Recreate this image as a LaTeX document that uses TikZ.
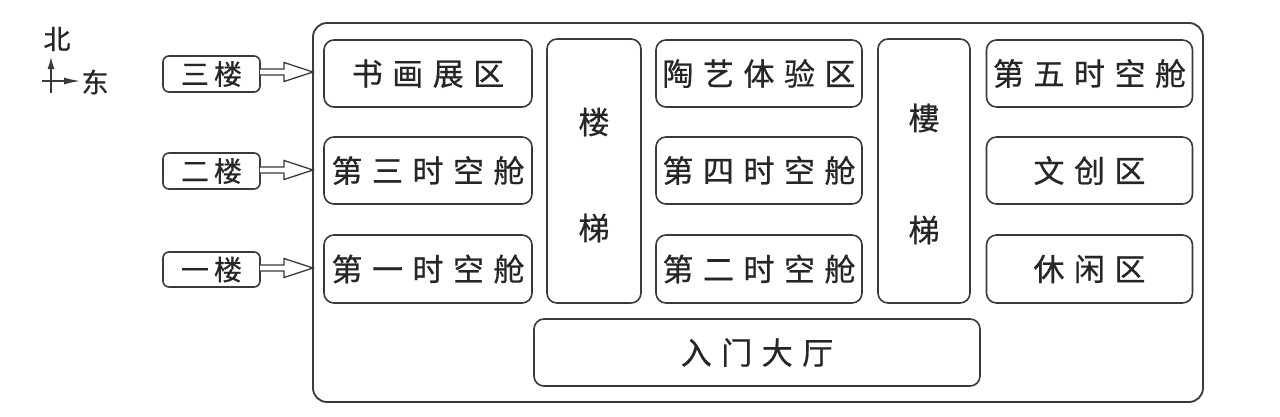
\documentclass[tikz,border=0pt]{standalone}
\usepackage{fontspec}
\setmainfont{Noto Sans CJK SC}
\newfontfamily\cjk[FakeBold=0.6]{Noto Sans CJK SC}
\usetikzlibrary{arrows.meta,positioning}
\definecolor{ln}{HTML}{3A3A3A}
\definecolor{tx}{HTML}{262626}
\newcommand\gp{\kern9.5pt}
\begin{document}
\begin{tikzpicture}[x=1pt,y=-1pt,
  every node/.style={inner sep=0pt,outer sep=0pt,text=tx},
  room/.style={draw=ln,line width=1.6pt,rounded corners=10pt,font=\cjk\fontsize{31}{31}\selectfont},
  floorbox/.style={draw=ln,line width=1.6pt,rounded corners=6pt,font=\cjk\fontsize{28}{28}\selectfont},
  lbl/.style={font=\cjk\fontsize{31}{31}\selectfont},
  small/.style={font=\cjk\fontsize{27}{27}\selectfont},
  hollow/.style={draw=ln,line width=1.3pt,fill=white,line join=miter}
]
\useasboundingbox (0,0) rectangle (1280,416);
\fill[white] (0,0) rectangle (1280,416);

% outer building
\draw[ln,line width=1.8pt,rounded corners=14pt] (313,23) rectangle (1203,402);
\coordinate (wall3) at (313,72);
\coordinate (wall2) at (313,170);
\coordinate (wall1) at (313,268);

% rooms
\node[room,minimum width=208pt,minimum height=67pt] (r11) at (428,73.5) {书\gp 画\gp 展\gp 区};
\node[room,minimum width=208pt,minimum height=67pt] (r12) at (428,170.5) {第\gp 三\gp 时\gp 空\gp 舱};
\node[room,minimum width=208pt,minimum height=68pt] (r13) at (428,269) {第\gp 一\gp 时\gp 空\gp 舱};

\node[room,minimum width=94pt,minimum height=264pt] (s1) at (594,171) {};
\node[lbl] (s1a) at (594,122) {楼};
\node[lbl] (s1b) at (594,228) {梯};

\node[room,minimum width=206pt,minimum height=67pt] (r21) at (759,73.5) {陶\gp 艺\gp 体\gp 验\gp 区};
\node[room,minimum width=206pt,minimum height=67pt] (r22) at (759,170.5) {第\gp 四\gp 时\gp 空\gp 舱};
\node[room,minimum width=206pt,minimum height=68pt] (r23) at (759,269) {第\gp 二\gp 时\gp 空\gp 舱};

\node[room,minimum width=92pt,minimum height=264pt] (s2) at (924,171) {};
\node[lbl] (s2a) at (924,118) {樓};
\node[lbl] (s2b) at (924,230) {梯};

\node[room,minimum width=206pt,minimum height=67pt] (r31) at (1089.5,73.5) {第\gp 五\gp 时\gp 空\gp 舱};
\node[room,minimum width=206pt,minimum height=67pt] (r32) at (1089.5,170.5) {文\gp 创\gp 区};
\node[room,minimum width=206pt,minimum height=68pt] (r33) at (1089.5,269) {休\gp 闲\gp 区};

\node[room,minimum width=446pt,minimum height=67pt] (hall) at (757,352.5) {入\gp 门\gp 大\gp 厅};

% floor labels
\node[floorbox,minimum width=97pt,minimum height=36pt] (f3) at (211.5,74) {三\kern5pt 楼};
\node[floorbox,minimum width=97pt,minimum height=36pt] (f2) at (211.5,171) {二\kern5pt 楼};
\node[floorbox,minimum width=97pt,minimum height=35pt] (f1) at (211.5,269.5) {一\kern5pt 楼};

% hollow arrows
\foreach \f/\w in {f3/wall3,f2/wall2,f1/wall1}{
  \draw[hollow] (\f.east |- \w) ++(0,-3) -- ++(24,0) -- ++(0,-6.5) -- (\w) -- ++(-29,9.5) -- ++(0,-6.5) -- ++(-24,0);
}

% compass
\node[small] (north) at (57,39) {北};
\node[small] (east) at (95,82) {东};
\coordinate (cS) at (51,93);
\coordinate (cN) at (51,56);
\coordinate (cW) at (42,81);
\coordinate (cE) at (81,81);
\draw[ln,line width=2pt,-{Latex[length=13pt,width=7pt]}] (cS) -- (cN);
\draw[ln,line width=2pt,-{Latex[length=17pt,width=7pt]}] (cW) -- (cE);
\end{tikzpicture}
\end{document}
